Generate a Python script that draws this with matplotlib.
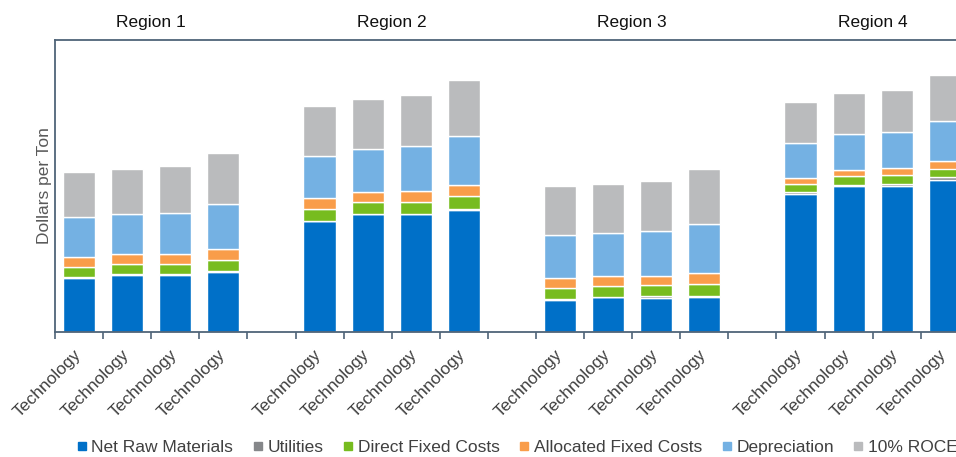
import matplotlib
matplotlib.use("Agg")
import matplotlib.pyplot as plt
import matplotlib.transforms as mtransforms
from matplotlib.lines import Line2D
import numpy as np

plt.rcParams['font.family'] = ['Liberation Sans', 'DejaVu Sans']

regions = ["Region 1", "Region 2", "Region 3", "Region 4"]
tech_label = "Technology"
series = ["Net Raw Materials", "Utilities", "Direct Fixed Costs",
          "Allocated Fixed Costs", "Depreciation", "10% ROCE"]
colors = ["#0070C8", "#85878A", "#77BC1F", "#F99D4A", "#74B1E3", "#BABBBD"]

# values per bar (4 technologies per region), order: R1 x4, R2 x4, R3 x4, R4 x4
net_raw = [54.5, 57.5, 57.5, 60.5, 111.0, 118.0, 117.7, 122.5,
           32.5, 34.8, 34.3, 35.5, 138.3, 146.3, 146.3, 152.3]
utilities = [0.7, 0.6, 0.6, 0.6, 0.5, 0.5, 0.8, 0.5,
             0.7, 0.7, 1.3, 0.8, 1.5, 1.0, 1.8, 2.3]
direct_fixed = [10.3, 9.9, 10.4, 11.4, 11.5, 11.5, 11.8, 13.0,
                11.3, 10.5, 11.1, 11.7, 8.2, 8.7, 8.9, 8.9]
allocated_fixed = [9.5, 10.0, 10.0, 10.5, 11.0, 10.3, 11.0, 11.0,
                   9.7, 9.8, 9.7, 10.8, 6.3, 6.3, 6.7, 7.7]
depreciation = [40.0, 40.0, 41.0, 45.5, 42.5, 43.0, 45.0, 49.0,
                42.8, 43.2, 44.6, 49.2, 35.0, 35.4, 36.1, 40.0]
roce = [45.0, 45.0, 46.5, 51.0, 49.5, 49.7, 50.7, 56.0,
        49.0, 49.0, 50.5, 55.5, 41.0, 41.0, 42.2, 45.8]

data = [net_raw, utilities, direct_fixed, allocated_fixed, depreciation, roce]

# slot positions: 4 bars per region, one empty slot between regions
n_per = 4
positions = []
for r in range(len(regions)):
    for t in range(n_per):
        positions.append(r * (n_per + 1) + t)
positions = np.array(positions, dtype=float)
n_slots = len(regions) * (n_per + 1) - 1  # 19

W, H = 956, 457
fig = plt.figure(figsize=(W / 100, H / 100), dpi=100)
slot_px = 48.1
ax_left, ax_bottom, ax_top = 55, 332, 40
ax = fig.add_axes([ax_left / W, (H - ax_bottom) / H,
                   n_slots * slot_px / W, (ax_bottom - ax_top) / H])

bottom = np.zeros(len(positions))
for vals, col, name in zip(data, colors, series):
    vals = np.array(vals)
    ax.bar(positions, vals, width=0.67, bottom=bottom, color=col,
           edgecolor="white", linewidth=1.0, label=name)
    bottom += vals

ax.set_xlim(-0.5, n_slots - 0.5)
ax.set_ylim(0, ax_bottom - ax_top)

spine_col = "#4F6478"
for s in ax.spines.values():
    s.set_color(spine_col)
    s.set_linewidth(1.3)

ax.set_yticks([])
ax.set_xticks(np.arange(-0.5, n_slots + 0.5, 1.0))
ax.set_xticklabels([])
ax.tick_params(axis="x", which="major", length=5, width=1.2, color=spine_col)
ax.set_xticks(positions, minor=True)
labels = ax.set_xticklabels([tech_label] * len(positions), minor=True,
                            rotation=45, ha="right", rotation_mode="anchor",
                            fontsize=12.5, color="#404040")
ax.tick_params(axis="x", which="minor", length=0, pad=11)
shift = mtransforms.ScaledTranslation(-6 / 100, 0, fig.dpi_scale_trans)
for lab in labels:
    lab.set_transform(lab.get_transform() + shift)

ax.set_ylabel("Dollars per Ton", fontsize=12.5, color="#595959", labelpad=2)

for r, name in enumerate(regions):
    cx = r * (n_per + 1) + (n_per - 1) / 2
    ax.text(cx, 1.0 + 18 / (ax_bottom - ax_top), name,
            transform=ax.get_xaxis_transform(), ha="center", va="center",
            fontsize=12.5, color="#111111")

handles = [Line2D([0], [0], marker="s", linestyle="none", markersize=6.0,
                  markerfacecolor=c, markeredgecolor=c) for c in colors]
fig.legend(handles, series, loc="center left",
           bbox_to_anchor=(77.5 / W, 1 - 447 / H), ncol=6, frameon=False,
           fontsize=12.5, handlelength=0.5, handletextpad=0.3,
           columnspacing=1.17, borderpad=0, borderaxespad=0,
           labelcolor="#404040")

fig.savefig("out.png", dpi=100)
